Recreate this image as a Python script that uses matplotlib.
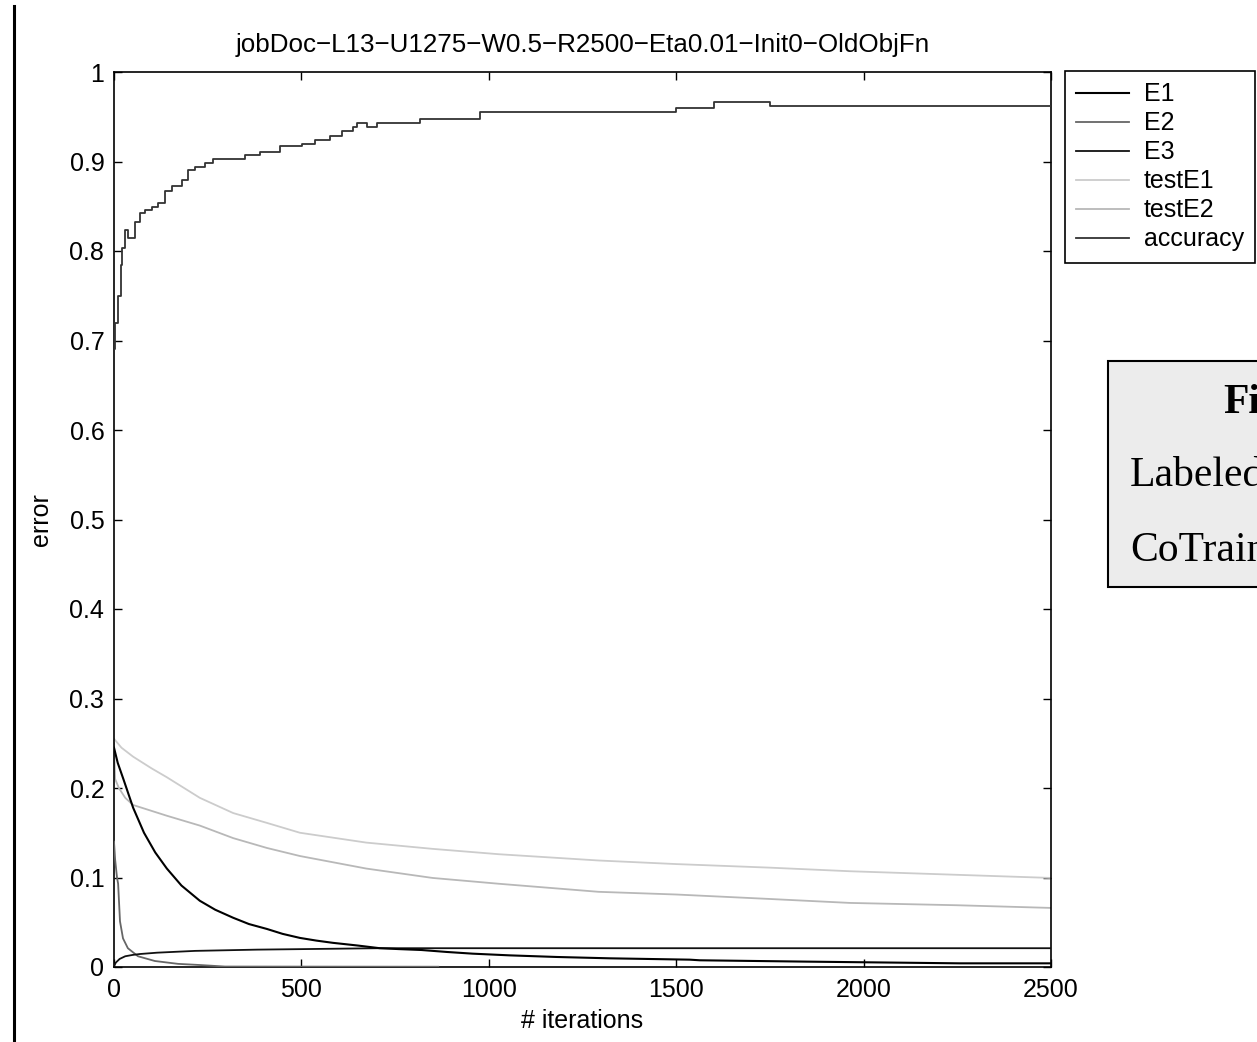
import matplotlib
matplotlib.use("Agg")
import matplotlib.pyplot as plt
from matplotlib.lines import Line2D
from matplotlib.patches import Rectangle
import numpy as np

plt.rcParams['font.family'] = ['Liberation Sans', 'DejaVu Sans']

title = "jobDoc\u2212L13\u2212U1275\u2212W0.5\u2212R2500\u2212Eta0.01\u2212Init0\u2212OldObjFn"
xlabel = "# iterations"
ylabel = "error"
series_names = ["E1", "E2", "E3", "testE1", "testE2", "accuracy"]
x_ticks = [0, 500, 1000, 1500, 2000, 2500]
x_ticklabels = ["0", "500", "1000", "1500", "2000", "2500"]
y_ticks = [0, 0.1, 0.2, 0.3, 0.4, 0.5, 0.6, 0.7, 0.8, 0.9, 1.0]
y_ticklabels = ["0", "0.1", "0.2", "0.3", "0.4", "0.5", "0.6", "0.7", "0.8", "0.9", "1"]
box_texts = ["Fi", "Labeled", "CoTrain"]

e1_x = [0, 10, 25, 51, 80, 110, 141, 180, 229, 270, 318, 360, 408, 450, 496, 540, 584,
        650, 709, 760, 820, 888, 957, 1056, 1181, 1323, 1536, 1563, 1848, 2256, 2500]
e1_y = [0.245, 0.228, 0.21, 0.178, 0.150, 0.128, 0.110, 0.091, 0.074, 0.064, 0.055, 0.048,
        0.0425, 0.037, 0.0325, 0.0295, 0.027, 0.024, 0.021, 0.020, 0.019, 0.0168, 0.0149,
        0.013, 0.0112, 0.0097, 0.0082, 0.0075, 0.006, 0.0041, 0.0041]

e2_x = [0, 3, 8, 11, 16, 24, 37, 64, 109, 171, 230, 296, 865]
e2_y = [0.14, 0.12, 0.10, 0.093, 0.051, 0.032, 0.021, 0.012, 0.0067, 0.0035, 0.0022, 0.0005, 0.0003]

e3_x = [0, 5, 15, 30, 50, 69, 115, 216, 381, 709, 2500]
e3_y = [0.001, 0.005, 0.009, 0.012, 0.0135, 0.0145, 0.016, 0.018, 0.0194, 0.021, 0.021]

te1_x = [0, 20, 51, 100, 141, 229, 318, 408, 496, 673, 850, 1027, 1293, 1500, 1750, 1963, 2250, 2500]
te1_y = [0.255, 0.245, 0.235, 0.222, 0.212, 0.189, 0.172, 0.161, 0.150, 0.139, 0.132, 0.126,
         0.119, 0.115, 0.111, 0.107, 0.103, 0.0995]

te2_x = [0, 3, 13, 30, 51, 141, 229, 318, 408, 496, 673, 850, 1027, 1293, 1500, 1750, 1963, 2250, 2500]
te2_y = [0.25, 0.21, 0.200, 0.189, 0.181, 0.169, 0.158, 0.144, 0.133, 0.124, 0.110, 0.0995,
         0.093, 0.084, 0.081, 0.076, 0.0716, 0.069, 0.066]

acc_x = [0, 3, 11, 19, 21, 29, 37, 48, 56, 69, 83, 101, 117, 136, 155, 181, 197, 216, 243, 264,
         349, 389, 443, 501, 536, 576, 608, 637, 648, 675, 701, 816, 976, 1500, 1600, 1750, 2500]
acc_y = [0.69, 0.72, 0.75, 0.784, 0.803, 0.823, 0.814, 0.815, 0.832, 0.842, 0.846, 0.849, 0.854,
         0.867, 0.873, 0.879, 0.890, 0.894, 0.898, 0.903, 0.907, 0.911, 0.917, 0.920, 0.924,
         0.929, 0.934, 0.938, 0.943, 0.938, 0.943, 0.948, 0.955, 0.960, 0.966, 0.962, 0.962]

W, H = 1257, 1042
fig = plt.figure(figsize=(W / 100, H / 100), dpi=100)
ax = fig.add_axes([114 / W, 1 - 967 / H, (1051 - 114) / W, (967 - 72) / H])

FS = 18
lw = 1.3
ax.plot(te1_x, te1_y, color='#cccccc', lw=lw, label=series_names[3], zorder=2)
ax.plot(te2_x, te2_y, color='#b8b8b8', lw=lw, label=series_names[4], zorder=2)
ax.plot(e2_x, e2_y, color='#666666', lw=lw, label=series_names[1], zorder=3)
ax.plot(e3_x, e3_y, color='#111111', lw=lw, label=series_names[2], zorder=3)
ax.plot(e1_x, e1_y, color='#000000', lw=lw + 0.2, label=series_names[0], zorder=4)
ax.plot(acc_x, acc_y, color='#333333', lw=lw, drawstyle='steps-post', label=series_names[5], zorder=4)

ax.set_xlim(0, 2500)
ax.set_ylim(0, 1)
ax.set_xticks(x_ticks)
ax.set_xticklabels(x_ticklabels)
ax.set_yticks(y_ticks)
ax.set_yticklabels(y_ticklabels)
ax.tick_params(direction='in', length=6, width=1.0, top=True, right=True, labelsize=FS)
ax.tick_params(axis='x', pad=8)
ax.tick_params(axis='y', pad=7)
for s in ax.spines.values():
    s.set_linewidth(1.2)
ax.set_xlabel(xlabel, fontsize=FS, labelpad=5)
ax.set_ylabel(ylabel, fontsize=FS, labelpad=12)
fig.text((114 + 1051) / 2 / W, 1 - 45 / H, title, ha='center', va='center', fontsize=18.7)

handles, labels = ax.get_legend_handles_labels()
order = [labels.index(n) for n in series_names]
leg = ax.legend([handles[i] for i in order], [labels[i] for i in order],
                loc='upper left', bbox_to_anchor=(1065 / W, 1 - 71 / H),
                bbox_transform=fig.transFigure, borderaxespad=0, fontsize=FS,
                frameon=True, fancybox=False, edgecolor='black', framealpha=1,
                handlelength=2.1, handletextpad=0.6, labelspacing=0.2, borderpad=0.45)
leg.get_frame().set_linewidth(1.2)

# grey annotation box (clipped at the right edge, as in the reference)
fig.patches.append(Rectangle((1108 / W, 1 - 587 / H), (1262 - 1108) / W, (587 - 361) / H,
                             transform=fig.transFigure, facecolor='#ececec',
                             edgecolor='black', lw=1.5, zorder=1))
fig.text(1223 / W, 1 - 403 / H, box_texts[0], family='Liberation Serif', fontweight='bold',
         fontsize=30, ha='left', va='center')
fig.text(1130 / W, 1 - 476 / H, box_texts[1], family='Liberation Serif',
         fontsize=30, ha='left', va='center')
fig.text(1130 / W, 1 - 551 / H, box_texts[2], family='Liberation Serif',
         fontsize=30, ha='left', va='center')

# left vertical rule
fig.lines.append(Line2D([14 / W, 14 / W], [0, 1 - 6 / H], transform=fig.transFigure,
                        color='black', lw=2.2))

fig.savefig("out.png", dpi=100)
